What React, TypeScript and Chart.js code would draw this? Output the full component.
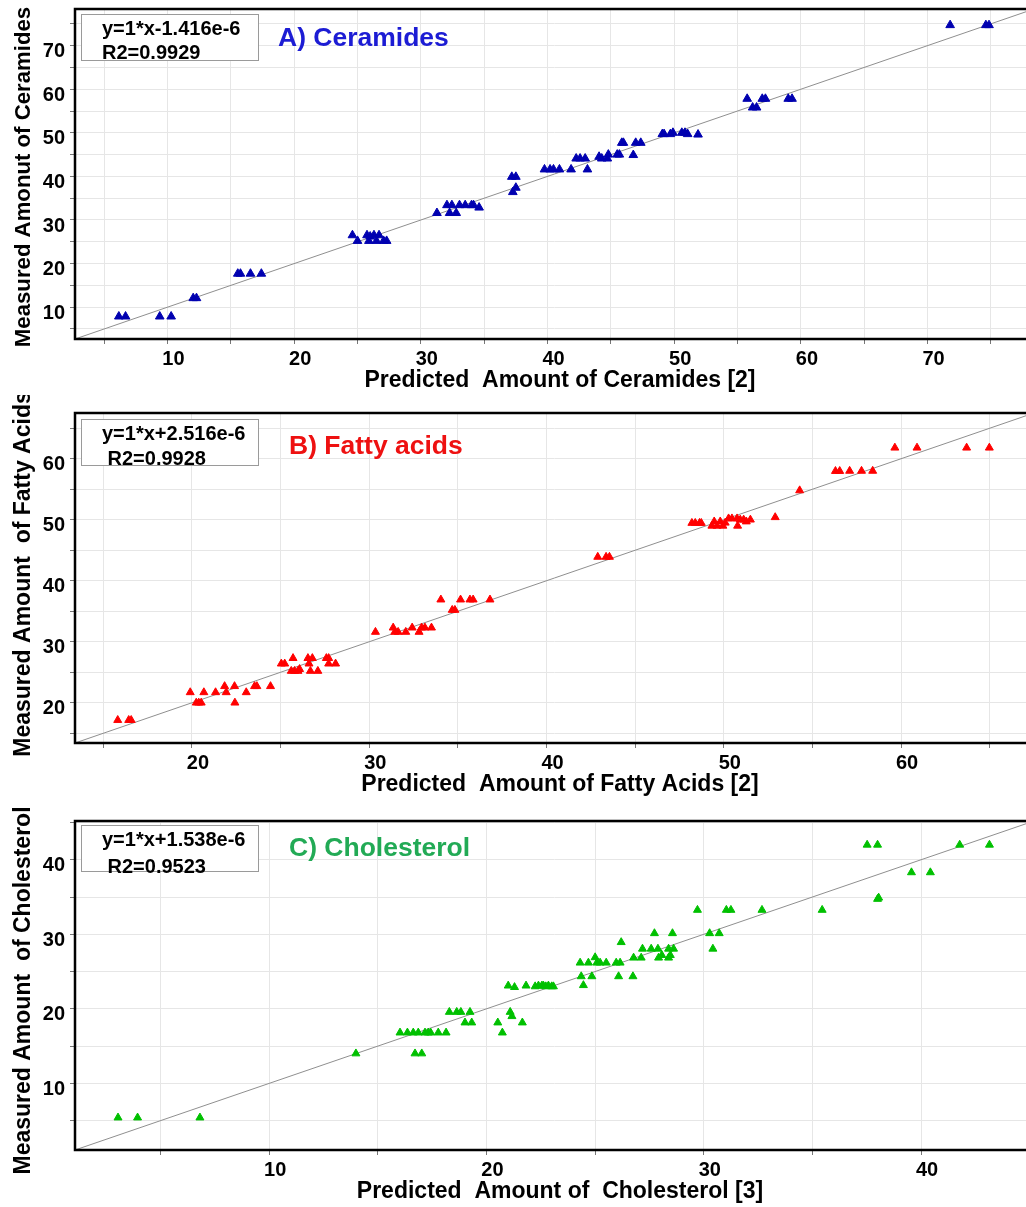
import React, { useEffect, useRef } from "react";
import { Chart, registerables } from "chart.js";

Chart.register(...registerables);

// ---------- Data: A) Ceramides ----------
const ceramidePredicted = [
  6.16, 6.69, 9.39, 10.29, 12.03, 12.29, 15.55, 15.76, 16.55, 17.41,
  24.6, 25.0, 25.75, 26.0, 26.3, 26.7, 25.9, 26.5, 27.06, 27.3,
  31.27, 32.06, 32.45, 33.05, 33.5, 34.0, 34.16, 34.6, 32.27, 32.79,
  37.18, 37.5, 37.26, 37.5, 39.76, 40.2, 40.47, 40.94, 41.86, 42.26,
  42.57, 42.97, 43.15, 44.07, 44.28, 44.8, 44.72, 45.5, 45.67, 45.86,
  45.99, 46.77, 46.96, 47.36, 49.06, 49.2, 49.7, 49.9, 50.6, 50.85,
  51.06, 51.88, 55.76, 56.19, 56.5, 56.95, 57.2, 59.0, 59.3, 71.78,
  74.6, 74.85,
];
const ceramideMeasured = [
  7.86, 7.86, 7.86, 7.86, 12.07, 12.07, 17.68, 17.68, 17.68, 17.68,
  26.5, 25.2, 26.5, 26.2, 26.5, 26.5, 25.2, 25.2, 25.2, 25.2,
  31.6, 33.4, 33.4, 33.4, 33.4, 33.4, 33.4, 32.85, 31.6, 31.6,
  39.9, 39.9, 36.4, 37.4, 41.6, 41.6, 41.6, 41.6, 41.6, 44.1,
  44.1, 44.1, 41.6, 44.5, 44.1, 45.0, 44.1, 45.0, 45.0, 47.7,
  47.7, 44.9, 47.7, 47.7, 49.7, 49.7, 49.7, 50.0, 50.0, 50.0,
  49.7, 49.6, 57.8, 55.8, 55.8, 57.8, 57.8, 57.8, 57.8, 74.7,
  74.7, 74.7,
];

// ---------- Data: B) Fatty acids ----------
const fattyPredicted = [
  15.81, 16.43, 16.57, 19.9, 20.24, 20.38, 20.52, 20.67, 21.33, 21.84,
  21.93, 22.4, 22.42, 23.06, 23.53, 23.66, 24.43, 25.04, 25.23, 25.7,
  25.6, 25.79, 25.98, 26.07, 26.54, 26.79, 26.6, 26.68, 27.1, 27.58,
  27.71, 27.71, 28.1, 30.35, 31.35, 31.44, 31.63, 32.06, 32.42, 32.81,
  32.95, 33.14, 33.51, 34.04, 34.68, 34.83, 35.15, 35.68, 35.86, 36.81,
  42.89, 43.36, 43.55, 48.2, 48.39, 48.63, 48.73, 49.33, 49.46, 49.62,
  49.8, 49.95, 50.08, 50.27, 50.46, 50.75, 50.78, 50.93, 51.12, 51.27,
  51.5, 52.9, 54.28, 56.3, 56.54, 57.1, 57.77, 58.4, 59.65, 60.9,
  63.7, 64.98,
];
const fattyMeasured = [
  17.15, 17.15, 17.15, 21.7, 20.0, 20.0, 20.0, 21.7, 21.7, 22.7,
  21.7, 22.7, 20.0, 21.7, 22.7, 22.7, 22.7, 26.4, 26.4, 27.3,
  25.2, 25.2, 25.2, 25.5, 27.3, 27.3, 26.4, 25.2, 25.2, 27.3,
  27.3, 26.4, 26.4, 31.6, 32.3, 31.6, 31.6, 31.6, 32.3, 31.6,
  32.3, 32.3, 32.3, 36.9, 35.2, 35.2, 36.9, 36.9, 36.9, 36.9,
  43.9, 43.9, 43.9, 49.46, 49.46, 49.46, 49.46, 49.0, 49.7, 49.0,
  49.7, 49.0, 49.5, 50.2, 50.2, 50.2, 49.0, 50.0, 50.0, 49.7,
  50.0, 50.4, 54.8, 57.97, 57.97, 58.0, 58.0, 58.0, 61.8, 61.8,
  61.8, 61.8,
];

// ---------- Data: C) Cholesterol ----------
const cholesterolPredicted = [
  3.04, 3.94, 6.81, 13.99, 16.02, 16.36, 16.63, 16.86, 17.17, 17.32,
  17.43, 17.78, 18.14, 16.71, 17.02, 18.29, 18.63, 18.82, 19.24, 19.01,
  19.32, 20.52, 20.73, 21.0, 21.29, 21.09, 21.17, 21.65, 21.82, 22.24,
  22.39, 22.55, 22.62, 22.73, 22.85, 23.0, 23.08, 24.31, 24.69, 25.0,
  25.08, 25.23, 25.51, 24.36, 24.85, 24.46, 25.97, 26.15, 26.08, 26.2,
  26.74, 26.77, 27.12, 27.18, 27.58, 27.89, 27.73, 27.92, 28.07, 28.38,
  28.38, 28.46, 28.61, 28.56, 29.71, 30.27, 30.71, 30.42, 31.04, 31.25,
  32.68, 35.45, 37.52, 38.0, 38.0, 38.05, 39.56, 40.43, 41.78, 43.15,
];
const cholesterolMeasured = [
  5.4, 5.4, 5.4, 14.0, 16.8, 16.8, 16.8, 16.8, 16.8, 16.8,
  16.8, 16.8, 16.8, 14.0, 14.0, 19.57, 19.57, 19.57, 19.57, 18.15,
  18.15, 18.15, 16.8, 23.1, 22.9, 19.57, 19.0, 18.15, 23.1, 23.0,
  23.1, 23.1, 23.1, 23.0, 23.1, 23.0, 23.0, 26.18, 26.18, 26.9,
  26.18, 26.18, 26.18, 24.35, 24.35, 23.16, 26.18, 26.18, 24.35, 28.93,
  24.35, 26.85, 26.85, 28.05, 28.05, 28.05, 30.13, 26.85, 27.2, 28.05,
  26.85, 27.2, 28.05, 30.13, 33.26, 30.13, 30.13, 28.05, 33.26, 33.26,
  33.26, 33.26, 42.0, 42.0, 34.73, 34.9, 38.3, 38.3, 42.0, 42.0,
];

// ---------- Regression lines (y = slope * x + intercept) ----------
const ceramideFit = [1, -1.416e-6];
const fattyFit = [1, 2.516e-6];
const cholesterolFit = [1, 1.538e-6];
const fitLineX = [0, 100];

// ---------- Axis ranges ----------
const ceramideRange = [2.7, 78.4];
const fattyRange = [13.4, 67.5];
const cholesterolRange = [1.06, 45.2];

const tickStep = 5;
const labelStep = 10;

const FONT = '"Liberation Sans", Arial, Helvetica, sans-serif';

type PanelProps = {
  canvasTop: number;
  canvasHeight: number;
  areaTop: number;
  areaBottom: number;
  xs: number[];
  ys: number[];
  fit: number[];
  range: number[];
  color: string;
  radius: number;
  xTitle: string;
  yTitle: string;
  yTitleSize: number;
  yTitleShift: number;
};

const AREA_LEFT = 75;
const CANVAS_W = 1040;
const AREA_RIGHT = 1034;

function Panel(p: PanelProps) {
  const ref = useRef<HTMLCanvasElement | null>(null);
  useEffect(() => {
    const canvas = ref.current;
    if (!canvas) return;
    const isLabel = (v: number) => Math.abs(v % labelStep) < 1e-6;
    const axisHeight = p.canvasHeight - (p.areaBottom - p.canvasTop);
    const framePlugin = {
      id: "frameAndTitles",
      afterDraw(chart: any) {
        const { ctx, chartArea: a } = chart;
        ctx.save();
        ctx.strokeStyle = "#000";
        ctx.lineWidth = 2.5;
        ctx.strokeRect(a.left, a.top, a.right - a.left, a.bottom - a.top);
        ctx.fillStyle = "#000";
        ctx.font = `bold 23px ${FONT}`;
        ctx.textAlign = "center";
        ctx.textBaseline = "middle";
        ctx.fillText(p.xTitle, 560, a.bottom + 41.5);
        ctx.font = `bold ${p.yTitleSize}px ${FONT}`;
        ctx.translate(24, (a.top + a.bottom) / 2 + p.yTitleShift);
        ctx.rotate(-Math.PI / 2);
        ctx.fillText(p.yTitle, 0, 0);
        ctx.restore();
      },
    };
    const chart = new Chart(canvas, {
      type: "scatter",
      data: {
        datasets: [
          {
            data: p.xs.map((x, i) => ({ x, y: p.ys[i] })),
            pointStyle: "triangle",
            pointRadius: p.radius,
            backgroundColor: p.color,
            borderColor: p.color,
            borderWidth: 1,
          },
          {
            data: fitLineX.map((x) => ({ x, y: p.fit[0] * x + p.fit[1] })),
            showLine: true,
            pointRadius: 0,
            borderColor: "#8f8f8f",
            borderWidth: 1,
            fill: false,
          },
        ],
      } as any,
      options: {
        responsive: false,
        maintainAspectRatio: false,
        animation: false,
        events: [],
        layout: {
          padding: {
            top: p.areaTop - p.canvasTop,
            right: CANVAS_W - AREA_RIGHT,
            left: 0,
            bottom: 0,
          },
        },
        plugins: {
          legend: { display: false },
          tooltip: { enabled: false },
        },
        scales: {
          x: {
            type: "linear",
            position: "bottom",
            min: p.range[0],
            max: p.range[1],
            afterFit: (s: any) => {
              s.height = axisHeight;
              s.paddingLeft = 0;
              s.paddingRight = 0;
            },
            ticks: {
              stepSize: tickStep,
              includeBounds: false,
              autoSkip: false,
              maxRotation: 0,
              minRotation: 0,
              padding: 3,
              labelOffset: 6,
              color: "#000",
              font: { family: FONT, size: 20, weight: "bold" },
              callback: (v: any) => (isLabel(Number(v)) ? String(v) : ""),
            },
            grid: { color: "#e6e6e6", lineWidth: 1, tickLength: 5, tickColor: "#777" },
            border: { display: false },
          },
          y: {
            type: "linear",
            position: "left",
            min: p.range[0],
            max: p.range[1],
            afterFit: (s: any) => {
              s.width = AREA_LEFT;
              s.paddingTop = 0;
              s.paddingBottom = 0;
            },
            ticks: {
              stepSize: tickStep,
              includeBounds: false,
              autoSkip: false,
              padding: 5,
              labelOffset: 6,
              color: "#000",
              font: { family: FONT, size: 20, weight: "bold" },
              callback: (v: any) => (isLabel(Number(v)) ? String(v) : ""),
            },
            grid: { color: "#e6e6e6", lineWidth: 1, tickLength: 5, tickColor: "#777" },
            border: { display: false },
          },
        },
      } as any,
      plugins: [framePlugin],
    });
    return () => chart.destroy();
  }, []);
  return (
    <canvas
      ref={ref}
      width={CANVAS_W}
      height={p.canvasHeight}
      style={{
        position: "absolute",
        left: 0,
        top: p.canvasTop,
        width: CANVAS_W,
        height: p.canvasHeight,
      }}
    />
  );
}

function EqBox(props: { top: number; lines: string[]; gap: number }) {
  return (
    <div
      style={{
        position: "absolute",
        left: 81,
        top: props.top,
        width: 176,
        height: 45,
        border: "1px solid #9a9a9a",
        background: "#fff",
        fontFamily: FONT,
        fontWeight: "bold",
        fontSize: 20,
        color: "#000",
        whiteSpace: "pre",
      }}
    >
      <div style={{ position: "absolute", left: 20, top: 13 - 11, lineHeight: "22px" }}>
        {props.lines[0]}
      </div>
      <div style={{ position: "absolute", left: 20, top: 13 + props.gap - 11, lineHeight: "22px" }}>
        {props.lines[1]}
      </div>
    </div>
  );
}

function PanelTitle(props: { left: number; center: number; text: string; color: string }) {
  return (
    <div
      style={{
        position: "absolute",
        left: props.left,
        top: props.center - 15,
        lineHeight: "30px",
        fontFamily: FONT,
        fontWeight: "bold",
        fontSize: 26.5,
        color: props.color,
        whiteSpace: "pre",
      }}
    >
      {props.text}
    </div>
  );
}

export default function App() {
  return (
    <div
      style={{
        position: "absolute",
        left: 0,
        top: 0,
        width: 1026,
        height: 1207,
        overflow: "hidden",
        background: "#fff",
      }}
    >
      <Panel
        canvasTop={0}
        canvasHeight={395}
        areaTop={9}
        areaBottom={339}
        xs={ceramidePredicted}
        ys={ceramideMeasured}
        fit={ceramideFit}
        range={ceramideRange}
        color="#0000b0"
        radius={5}
        xTitle="Predicted  Amount of Ceramides [2]"
        yTitle="Measured Amonut of Ceramides"
        yTitleSize={22.2}
        yTitleShift={3}
      />
      <Panel
        canvasTop={395}
        canvasHeight={405}
        areaTop={413}
        areaBottom={743}
        xs={fattyPredicted}
        ys={fattyMeasured}
        fit={fattyFit}
        range={fattyRange}
        color="#ff0000"
        radius={4.6}
        xTitle="Predicted  Amount of Fatty Acids [2]"
        yTitle="Measured Amount  of Fatty Acids"
        yTitleSize={23}
        yTitleShift={-4}
      />
      <Panel
        canvasTop={800}
        canvasHeight={407}
        areaTop={821}
        areaBottom={1150}
        xs={cholesterolPredicted}
        ys={cholesterolMeasured}
        fit={cholesterolFit}
        range={cholesterolRange}
        color="#00c000"
        radius={4.6}
        xTitle="Predicted  Amount of  Cholesterol [3]"
        yTitle="Measured Amount  of Cholesterol"
        yTitleSize={23}
        yTitleShift={5}
      />
      <EqBox top={14} lines={["y=1*x-1.416e-6", "R2=0.9929"]} gap={24} />
      <EqBox top={419} lines={["y=1*x+2.516e-6", " R2=0.9928"]} gap={25} />
      <EqBox top={825} lines={["y=1*x+1.538e-6", " R2=0.9523"]} gap={27} />
      <PanelTitle left={278} center={37} text="A) Ceramides" color="#1c1cd4" />
      <PanelTitle left={289} center={445} text="B) Fatty acids" color="#ee1111" />
      <PanelTitle left={289} center={847} text="C) Cholesterol" color="#22aa55" />
    </div>
  );
}
